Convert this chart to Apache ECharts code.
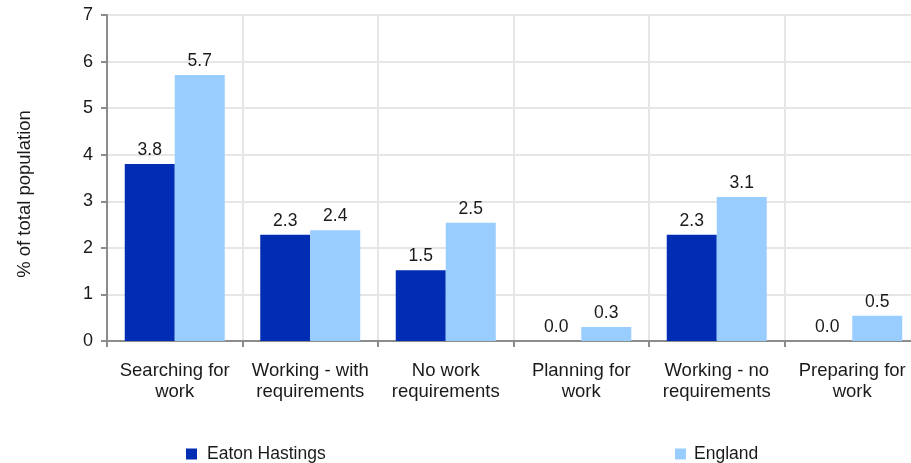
<!DOCTYPE html>
<html>
<head>
<meta charset="utf-8">
<script src="https://cdn.jsdelivr.net/npm/echarts@6/dist/echarts.min.js"></script>
<style>html,body{margin:0;padding:0;background:#fff}#c{width:911px;height:463px}</style>
</head>
<body>
<div id="c"></div>
<script>
var categories = ["Searching for\nwork", "Working - with\nrequirements", "No work\nrequirements", "Planning for\nwork", "Working - no\nrequirements", "Preparing for\nwork"];
var eatonHastings = [3.8, 2.28, 1.52, 0.0, 2.28, 0.0];
var england = [5.71, 2.38, 2.54, 0.3, 3.09, 0.54];
var seriesNames = ["Eaton Hastings", "England"];
var yTicks = [0, 1, 2, 3, 4, 5, 6, 7];

var font = "'Liberation Sans', Arial, sans-serif";
var chart = echarts.init(document.getElementById('c'), null, {renderer: 'canvas'});
var labelCfg = {
  show: true, position: 'top', distance: 5, color: '#1a1a1a', fontSize: 17.5, fontFamily: font,
  formatter: function (p) { return p.value.toFixed(1); }
};
chart.setOption({
  animation: false,
  textStyle: {fontFamily: font},
  grid: {left: 107, width: 813, top: 15, bottom: 122, containLabel: false, outerBoundsMode: 'none'},
  legend: [
    {data: [seriesNames[0]], left: 181, top: 440, itemWidth: 11, itemHeight: 11, itemGap: 10,
     textStyle: {fontSize: 17.5, color: '#1a1a1a', fontFamily: font, padding: [0, 0, 0, 5]}, icon: 'rect'},
    {data: [seriesNames[1]], left: 670, top: 440, itemWidth: 11, itemHeight: 11, itemGap: 9,
     textStyle: {fontSize: 17.5, color: '#1a1a1a', fontFamily: font, padding: [0, 0, 0, 3]}, icon: 'rect'}
  ],
  xAxis: {
    type: 'category', data: categories,
    axisLine: {lineStyle: {color: '#8c8c8c', width: 2}},
    axisTick: {show: true, length: 6, lineStyle: {color: '#8c8c8c', width: 2}},
    splitLine: {show: true, lineStyle: {color: '#e6e6e6', width: 2}},
    axisLabel: {fontSize: 18.5, color: '#1a1a1a', lineHeight: 21, margin: 19, interval: 0, fontFamily: font}
  },
  yAxis: {
    type: 'value', min: yTicks[0], max: yTicks[yTicks.length - 1], interval: 1,
    name: '% of total population', nameLocation: 'middle', nameGap: 73, nameRotate: 90,
    nameTextStyle: {fontSize: 18.5, color: '#1a1a1a', fontFamily: font, padding: [0, 32, 0, 0]},
    axisLine: {show: true, lineStyle: {color: '#8c8c8c', width: 2}},
    axisTick: {show: true, length: 6, lineStyle: {color: '#8c8c8c', width: 2}},
    splitLine: {show: true, lineStyle: {color: '#e6e6e6', width: 2}},
    axisLabel: {fontSize: 18, color: '#1a1a1a', margin: 14, fontFamily: font}
  },
  series: [
    {name: seriesNames[0], type: 'bar', data: eatonHastings, barWidth: 50, barGap: '0%',
     itemStyle: {color: '#002db3'}, label: labelCfg},
    {name: seriesNames[1], type: 'bar', data: england, barWidth: 50, barGap: '0%',
     itemStyle: {color: '#99ccff'}, label: labelCfg}
  ]
});
</script>
</body>
</html>
